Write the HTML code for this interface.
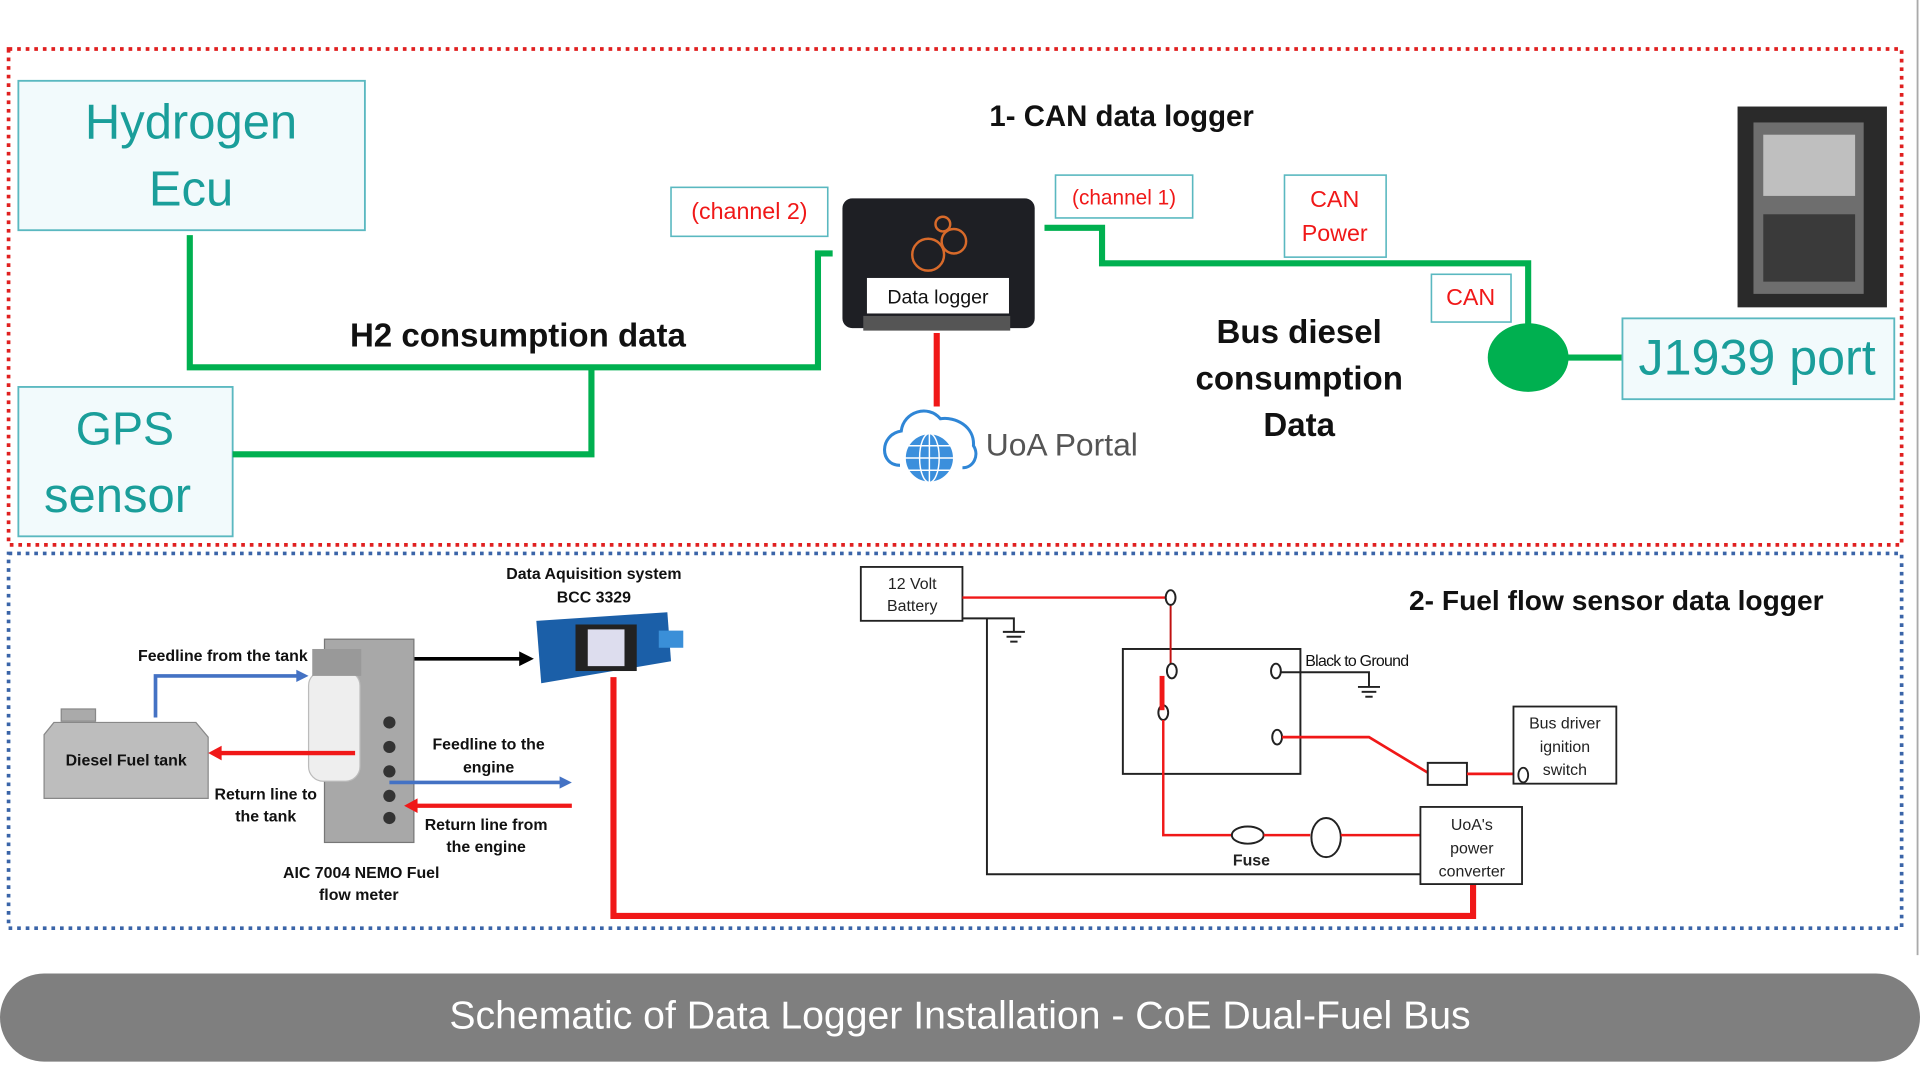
<!DOCTYPE html>
<html><head><meta charset="utf-8"><style>
html,body{margin:0;padding:0;background:#fff;width:1920px;height:1080px;overflow:hidden}
svg{display:block}
text{font-family:"Liberation Sans",sans-serif}
</style></head><body>
<svg width="1920" height="1080" viewBox="0 0 1568 882" preserveAspectRatio="none" xmlns="http://www.w3.org/2000/svg">
<rect width="1568" height="882" fill="#fff"/>
<line x1="1566" y1="0" x2="1566" y2="780" stroke="#aaa" stroke-width="1.5"/>
<!-- section borders -->
<rect x="7" y="40" width="1546" height="405" fill="none" stroke="#e02020" stroke-width="3" stroke-dasharray="3,4"/>
<rect x="7" y="452" width="1546" height="306" fill="none" stroke="#3a64a8" stroke-width="3" stroke-dasharray="3,4"/>

<!-- top section -->
<rect x="15" y="66" width="283" height="122" fill="#f2fafc" stroke="#5ab8c0" stroke-width="1.5"/>
<text x="156" y="113" font-size="40" fill="#1a9e9a" text-anchor="middle">Hydrogen</text>
<text x="156" y="168" font-size="40" fill="#1a9e9a" text-anchor="middle">Ecu</text>
<rect x="15" y="316" width="175" height="122" fill="#f2fafc" stroke="#5ab8c0" stroke-width="1.5"/>
<text x="102" y="363" font-size="38" fill="#1a9e9a" text-anchor="middle">GPS</text>
<text x="96" y="418" font-size="40" fill="#1a9e9a" text-anchor="middle">sensor</text>

<g fill="none" stroke="#00b050" stroke-width="5">
<polyline points="155,192 155,300 668,300 668,207 680,207"/>
<polyline points="483,300 483,371 190,371"/>
<polyline points="853,186 900,186 900,215 1248,215 1248,270"/>
<line x1="1278" y1="292" x2="1325" y2="292"/>
</g>
<ellipse cx="1248" cy="292" rx="33" ry="28" fill="#00b050"/>

<text x="423" y="283" font-size="27" font-weight="bold" fill="#111" text-anchor="middle">H2 consumption data</text>
<text x="916" y="103" font-size="24" font-weight="bold" fill="#111" text-anchor="middle">1- CAN data logger</text>

<rect x="548" y="153" width="128" height="40" fill="#fff" stroke="#5ab8c0" stroke-width="1.3"/>
<text x="612" y="179" font-size="19" fill="#f01818" text-anchor="middle">(channel 2)</text>
<rect x="862" y="143" width="112" height="35" fill="#fff" stroke="#5ab8c0" stroke-width="1.3"/>
<text x="918" y="167" font-size="17" fill="#f01818" text-anchor="middle">(channel 1)</text>
<rect x="1049" y="143" width="83" height="67" fill="#fff" stroke="#5ab8c0" stroke-width="1.3"/>
<text x="1090" y="169" font-size="19" fill="#f01818" text-anchor="middle">CAN</text>
<text x="1090" y="197" font-size="19" fill="#f01818" text-anchor="middle">Power</text>
<rect x="1169" y="224" width="65" height="39" fill="#fff" stroke="#5ab8c0" stroke-width="1.3"/>
<text x="1201" y="249" font-size="19" fill="#f01818" text-anchor="middle">CAN</text>

<!-- data logger device -->
<rect x="688" y="162" width="157" height="106" rx="8" fill="#1e1f24"/>
<rect x="705" y="258" width="120" height="12" fill="#555"/>
<g fill="none" stroke="#d86a2a" stroke-width="2">
<circle cx="758" cy="208" r="13"/><circle cx="779" cy="197" r="10"/><circle cx="770" cy="183" r="6"/>
</g>
<rect x="708" y="227" width="116" height="29" fill="#fff"/>
<text x="766" y="248" font-size="16" fill="#111" text-anchor="middle">Data logger</text>
<line x1="765" y1="272" x2="765" y2="332" stroke="#f01818" stroke-width="5"/>
<!-- cloud -->
<path d="M735,380 C718,380 718,355 736,352 C738,336 758,330 768,342 C780,340 796,348 795,364 C800,372 795,382 786,382" fill="none" stroke="#2f86d6" stroke-width="2.5"/>
<circle cx="759" cy="374" r="20" fill="#3b8fdc" stroke="#fff" stroke-width="1.5"/>
<g stroke="#fff" stroke-width="1.2" fill="none"><ellipse cx="759" cy="374" rx="8" ry="20"/><line x1="739" y1="374" x2="779" y2="374"/><line x1="759" y1="354" x2="759" y2="394"/><line x1="742" y1="364" x2="776" y2="364"/><line x1="742" y1="384" x2="776" y2="384"/></g>
<text x="805" y="372" font-size="26" fill="#555">UoA Portal</text>

<text x="1061" y="280" font-size="27" font-weight="bold" fill="#111" text-anchor="middle">Bus diesel</text>
<text x="1061" y="318" font-size="27" font-weight="bold" fill="#111" text-anchor="middle">consumption</text>
<text x="1061" y="356" font-size="27" font-weight="bold" fill="#111" text-anchor="middle">Data</text>

<rect x="1325" y="260" width="222" height="66" fill="#f2fafc" stroke="#5ab8c0" stroke-width="1.5"/>
<text x="1435" y="306" font-size="41" fill="#1a9e9a" text-anchor="middle">J1939 port</text>
<!-- photo -->
<rect x="1419" y="87" width="122" height="164" fill="#2a2a2a"/>
<rect x="1432" y="100" width="90" height="140" fill="#6e6e6e"/>
<rect x="1440" y="110" width="75" height="50" fill="#bfbfbf"/>
<rect x="1440" y="175" width="75" height="55" fill="#3a3a3a"/>

<!-- bottom section left -->
<text x="485" y="473" font-size="13" font-weight="bold" fill="#111" text-anchor="middle">Data Aquisition system</text>
<text x="485" y="492" font-size="13" font-weight="bold" fill="#111" text-anchor="middle">BCC 3329</text>
<polygon points="438,507 545,500 548,540 442,558" fill="#1b5fa8"/>
<rect x="470" y="510" width="50" height="38" fill="#222"/>
<rect x="480" y="514" width="30" height="30" fill="#dde"/>
<rect x="538" y="515" width="20" height="14" fill="#3a8fd8"/>
<line x1="322" y1="538" x2="426" y2="538" stroke="#000" stroke-width="3"/>
<polygon points="436,538 424,532 424,544" fill="#000"/>

<path d="M36,600 L44,590 L160,590 L170,602 L170,652 L36,652 Z" fill="#bdbdbd" stroke="#888"/>
<rect x="50" y="579" width="28" height="10" fill="#aaa" stroke="#888"/>
<text x="103" y="625" font-size="13" font-weight="bold" fill="#111" text-anchor="middle">Diesel Fuel tank</text>

<rect x="265" y="522" width="73" height="166" fill="#a8a8a8" stroke="#777"/>
<rect x="252" y="548" width="42" height="90" rx="12" fill="#eee" stroke="#bbb"/>
<rect x="255" y="530" width="40" height="22" fill="#999"/>
<g fill="#333"><circle cx="318" cy="590" r="5"/><circle cx="318" cy="610" r="5"/><circle cx="318" cy="630" r="5"/><circle cx="318" cy="650" r="5"/><circle cx="318" cy="668" r="5"/></g>

<polyline points="127,586 127,552 244,552" fill="none" stroke="#4472c4" stroke-width="3"/>
<polygon points="252,552 242,547 242,557" fill="#4472c4"/>
<line x1="290" y1="615" x2="180" y2="615" stroke="#f01818" stroke-width="3.5"/>
<polygon points="170,615 181,609 181,621" fill="#f01818"/>
<line x1="318" y1="639" x2="458" y2="639" stroke="#4472c4" stroke-width="3"/>
<polygon points="467,639 457,634 457,644" fill="#4472c4"/>
<line x1="467" y1="658" x2="340" y2="658" stroke="#f01818" stroke-width="3.5"/>
<polygon points="330,658 341,652 341,664" fill="#f01818"/>

<g font-size="13" font-weight="bold" fill="#111" text-anchor="middle">
<text x="182" y="540">Feedline from the tank</text>
<text x="399" y="612">Feedline to the</text><text x="399" y="631">engine</text>
<text x="217" y="653">Return line to</text><text x="217" y="671">the tank</text>
<text x="397" y="678">Return line from</text><text x="397" y="696">the engine</text>
<text x="295" y="717">AIC 7004 NEMO Fuel</text><text x="293" y="735">flow meter</text>
</g>

<polyline points="501,553 501,748 1203,748 1203,722" fill="none" stroke="#f01818" stroke-width="5"/>

<!-- schematic -->
<text x="1320" y="498" font-size="23" font-weight="bold" fill="#111" text-anchor="middle">2- Fuel flow sensor data logger</text>
<rect x="703" y="463" width="83" height="44" fill="#fff" stroke="#222" stroke-width="1.5"/>
<text x="745" y="481" font-size="13" fill="#222" text-anchor="middle">12 Volt</text>
<text x="745" y="499" font-size="13" fill="#222" text-anchor="middle">Battery</text>
<line x1="786" y1="488" x2="952" y2="488" stroke="#f01818" stroke-width="2"/>
<g fill="none" stroke="#222" stroke-width="1.6">
<polyline points="786,505 828,505 828,516"/>
<line x1="819" y1="516" x2="837" y2="516"/><line x1="822" y1="520" x2="834" y2="520"/><line x1="825" y1="524" x2="831" y2="524"/>
<polyline points="806,505 806,714 1160,714"/>
<rect x="917" y="530" width="145" height="102"/>
<polyline points="1046,549 1118,549 1118,561"/>
<line x1="1109" y1="561" x2="1127" y2="561"/><line x1="1112" y1="565" x2="1124" y2="565"/><line x1="1115" y1="569" x2="1121" y2="569"/>
<line x1="956" y1="494" x2="956" y2="542" stroke="#c01010"/>
</g>
<g fill="#fff" stroke="#222" stroke-width="1.6">
<ellipse cx="956" cy="488" rx="4" ry="6"/>
<ellipse cx="957" cy="548" rx="4" ry="6"/>
<ellipse cx="950" cy="582" rx="4" ry="6"/>
<ellipse cx="1042" cy="548" rx="4" ry="6"/>
<ellipse cx="1043" cy="602" rx="4" ry="6"/>
</g>
<line x1="949" y1="552" x2="949" y2="580" stroke="#f01818" stroke-width="4"/>
<polyline points="950,588 950,682 1006,682" fill="none" stroke="#f01818" stroke-width="2"/>
<text x="1066" y="544" font-size="13" fill="#111" letter-spacing="-0.6">Black to Ground</text>
<polyline points="1047,602 1118,602 1166,631" fill="none" stroke="#f01818" stroke-width="2.2"/>
<rect x="1166" y="623" width="32" height="18" fill="#fff" stroke="#222" stroke-width="1.6"/>
<line x1="1198" y1="632" x2="1240" y2="632" stroke="#f01818" stroke-width="2.2"/>
<rect x="1236" y="577" width="84" height="63" fill="#fff" stroke="#222" stroke-width="1.5"/>
<ellipse cx="1244" cy="633" rx="4" ry="6" fill="#fff" stroke="#222" stroke-width="1.5"/>
<g font-size="13" fill="#222" text-anchor="middle">
<text x="1278" y="595">Bus driver</text><text x="1278" y="614">ignition</text><text x="1278" y="633">switch</text>
</g>
<ellipse cx="1019" cy="682" rx="13" ry="7" fill="#fff" stroke="#222" stroke-width="1.6"/>
<line x1="1032" y1="682" x2="1070" y2="682" stroke="#f01818" stroke-width="2"/>
<ellipse cx="1083" cy="684" rx="12" ry="16" fill="#fff" stroke="#222" stroke-width="1.6"/>
<line x1="1095" y1="682" x2="1160" y2="682" stroke="#f01818" stroke-width="2"/>
<text x="1022" y="707" font-size="13" font-weight="bold" fill="#222" text-anchor="middle">Fuse</text>
<rect x="1160" y="659" width="83" height="63" fill="#fff" stroke="#222" stroke-width="1.5"/>
<g font-size="13" fill="#222" text-anchor="middle">
<text x="1202" y="678">UoA's</text><text x="1202" y="697">power</text><text x="1202" y="716">converter</text>
</g>

<!-- footer -->
<rect x="0" y="795" width="1568" height="72" rx="36" fill="#7f7f7f"/>
<text x="784" y="840" font-size="32" fill="#fff" text-anchor="middle">Schematic of Data Logger Installation - CoE Dual-Fuel Bus</text>
</svg>
</body></html>
